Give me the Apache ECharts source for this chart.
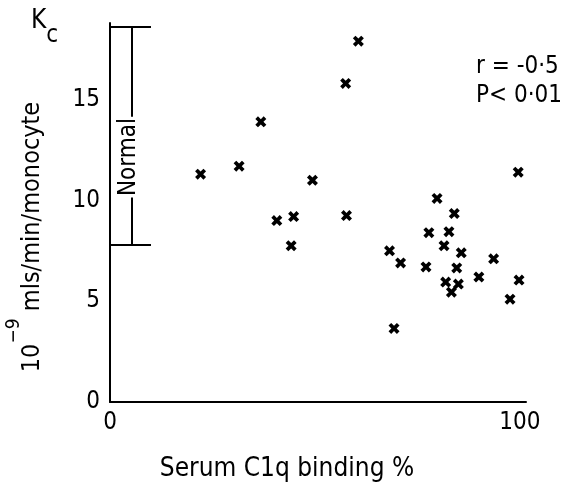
<!DOCTYPE html>
<html>
<head>
<meta charset="utf-8">
<script src="https://cdn.jsdelivr.net/npm/echarts@6/dist/echarts.min.js"></script>
<style>
html, body { margin: 0; padding: 0; background: #fff; }
#chart { width: 580px; height: 486px; }
</style>
</head>
<body>
<div id="chart"></div>
<script>
// serum C1q binding (%) against Kc (10^-9 mls/min/monocyte)
var c1qBinding = [60.6, 57.5, 36.8, 22.1, 31.5, 49.4, 40.7, 44.8, 44.2, 57.7,
                  99.6, 79.8, 84.0, 77.8, 82.7, 81.5, 85.7, 68.2, 70.9, 77.1,
                  84.6, 93.6, 90.0, 99.8, 81.9, 85.0, 83.3, 97.6, 69.3];
var kc = [17.9, 15.8, 13.9, 11.3, 11.7, 11.0, 9.0, 9.2, 7.75, 9.25,
          11.4, 10.1, 9.35, 8.4, 8.45, 7.75, 7.4, 7.5, 6.9, 6.7,
          6.65, 7.1, 6.2, 6.05, 5.95, 5.85, 5.45, 5.1, 3.65];
var xTicks = [0, 100];
var yTicks = [0, 5, 10, 15];
var normalRange = [7.8, 18.6];
var normalGap = [10.15, 14.15]; // where the "Normal" text breaks the bar

var font = "'DejaVu Sans Condensed', 'DejaVu Sans', sans-serif";
var crossPath = 'path://M0,2.4L2.4,0L5,2.6L7.6,0L10,2.4L7.4,5L10,7.6L7.6,10L5,7.4L2.4,10L0,7.6L2.6,5Z';

var points = c1qBinding.map(function (x, i) { return [x, kc[i]]; });

var barX = 5.4, capEnd = 10;
var line = function (x1, y1, x2, y2) {
    return [{ coord: [x1, y1] }, { coord: [x2, y2] }];
};

var chart = echarts.init(document.getElementById('chart'), null, { renderer: 'canvas' });
chart.setOption({
    animation: false,
    backgroundColor: '#fff',
    grid: { left: 110, right: 54, top: 23, bottom: 84, outerBoundsMode: 'none' },
    xAxis: {
        type: 'value',
        min: 0,
        max: 101.5,
        axisLine: { lineStyle: { color: '#000', width: 2 } },
        axisTick: { show: false },
        splitLine: { show: false },
        axisLabel: { customValues: xTicks, color: '#000', fontSize: 24, margin: 9, fontFamily: font }
    },
    yAxis: {
        type: 'value',
        min: 0,
        max: 18.8,
        axisLine: { show: true, lineStyle: { color: '#000', width: 2 } },
        axisTick: { show: false },
        splitLine: { show: false },
        axisLabel: { customValues: yTicks, color: '#000', fontSize: 24, margin: 10, fontFamily: font }
    },
    series: [{
        type: 'scatter',
        data: points,
        symbol: crossPath,
        symbolSize: 11,
        itemStyle: { color: '#000', opacity: 1 },
        markLine: {
            silent: true,
            symbol: 'none',
            label: { show: false },
            lineStyle: { color: '#000', width: 2, type: 'solid' },
            data: [
                line(0, normalRange[1], capEnd, normalRange[1]),
                line(0, normalRange[0], capEnd, normalRange[0]),
                line(barX, normalRange[0], barX, normalGap[0]),
                line(barX, normalGap[1], barX, normalRange[1])
            ]
        },
        markPoint: {
            silent: true,
            symbol: 'circle',
            symbolSize: 1,
            itemStyle: { color: 'rgba(0,0,0,0)' },
            data: [{ coord: [barX - 0.9, (normalGap[0] + normalGap[1]) / 2] }],
            label: {
                show: true,
                formatter: 'Normal',
                rotate: 90,
                color: '#000',
                fontSize: 24,
                fontFamily: font,
                position: 'inside'
            }
        }
    }],
    graphic: [
        {
            type: 'text', left: 31, top: 8,
            style: {
                text: '{k|K}{s|c}', fill: '#000',
                rich: {
                    k: { fontSize: 26, fontFamily: font, verticalAlign: 'top', lineHeight: 40 },
                    s: { fontSize: 24, fontFamily: font, verticalAlign: 'bottom', lineHeight: 40 }
                }
            }
        },
        {
            type: 'text', x: 476, y: 67,
            style: { text: 'r = -0·5', fill: '#000', font: '24px ' + font, verticalAlign: 'middle' }
        },
        {
            type: 'text', x: 476, y: 96,
            style: { text: 'P< 0·01', fill: '#000', font: '24px ' + font, verticalAlign: 'middle' }
        },
        {
            type: 'text', x: 287, y: 469,
            style: { text: 'Serum C1q binding %', fill: '#000', font: '26px ' + font,
                     align: 'center', verticalAlign: 'middle' }
        },
        {
            type: 'text', x: 25, y: 237, rotation: Math.PI / 2,
            style: {
                text: '{a|10}{sup|−9}{a| mls/min/monocyte}', fill: '#000',
                align: 'center', verticalAlign: 'middle',
                rich: {
                    a: { fontSize: 25, fontFamily: font, verticalAlign: 'bottom', lineHeight: 40 },
                    sup: { fontSize: 19, fontFamily: font, verticalAlign: 'top', lineHeight: 40 }
                }
            }
        }
    ]
});
</script>
</body>
</html>
